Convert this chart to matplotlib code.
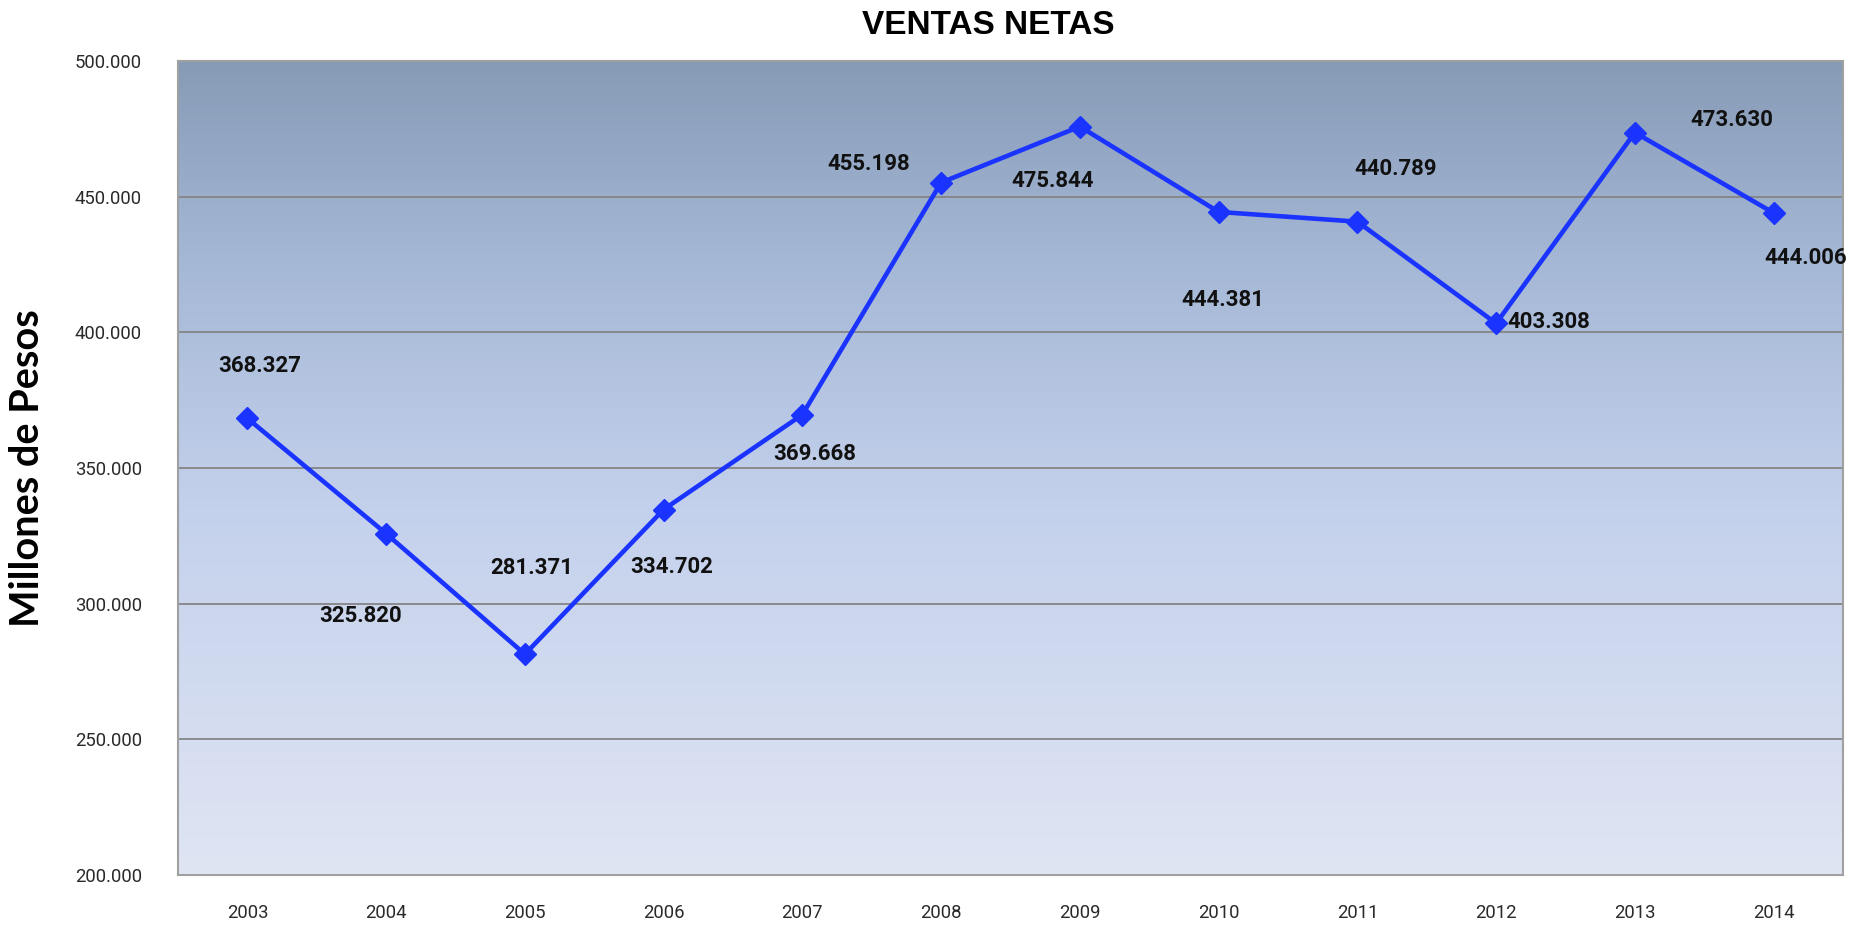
import matplotlib
matplotlib.use("Agg")
import matplotlib.pyplot as plt
import numpy as np
from matplotlib.colors import LinearSegmentedColormap

years = ["2003", "2004", "2005", "2006", "2007", "2008", "2009", "2010",
         "2011", "2012", "2013", "2014"]
ventas = [368327, 325820, 281371, 334702, 369668, 455198, 475844, 444381,
          440789, 403308, 473630, 444006]
y_ticks = [200000, 250000, 300000, 350000, 400000, 450000, 500000]

# label offsets in pixels (dx, dy) relative to each point (style only)
label_offsets = [(12, 52), (-26, -82), (7, 86), (8, -57), (12, -39), (-72, 19),
                 (-27, -54), (4, -88), (38, 53), (53, 1), (97, 13), (32, -45)]


def fmt(v):
    return f"{v:,.0f}".replace(",", ".")


fig = plt.figure(figsize=(18.56, 9.26), dpi=100)
ax = fig.add_axes([178 / 1856, 1 - 875 / 926, (1843 - 178) / 1856, (875 - 61) / 926])

x = np.arange(len(years))
ax.set_xlim(-0.5, len(years) - 0.5)
ax.set_ylim(y_ticks[0], y_ticks[-1])

# gradient background
cmap = LinearSegmentedColormap.from_list(
    "bg", [(0.0, "#DFE5F3"), (0.45, "#C4D1EC"), (0.75, "#A5B8D6"), (1.0, "#879BB7")])
grad = np.linspace(0, 1, 256).reshape(-1, 1)
ax.imshow(grad, aspect="auto", cmap=cmap, origin="lower",
          extent=[-0.5, len(years) - 0.5, y_ticks[0], y_ticks[-1]], zorder=0)

for yt in y_ticks[1:-1]:
    ax.axhline(yt, color="#858585", lw=1.3, zorder=1)

ax.plot(x, ventas, color="#1A33FF", lw=3.3, marker="D", markersize=11,
        markeredgecolor="#1A33FF", zorder=3)

for xi, v, (dx, dy) in zip(x, ventas, label_offsets):
    ax.annotate(fmt(v), (xi, v), xytext=(dx, dy), textcoords="offset pixels",
                ha="center", va="center", fontsize=16, fontweight="bold",
                family="Roboto", color="#111111", zorder=4)

ax.set_xticks(x)
ax.set_xticklabels(years, family="Roboto")
ax.set_yticks(y_ticks)
ax.set_yticklabels([fmt(t) for t in y_ticks], family="Roboto")
ax.tick_params(axis="both", length=0, labelsize=13.3, colors="#2a2a2a")
ax.tick_params(axis="y", pad=26)
ax.tick_params(axis="x", pad=21)

for s in ax.spines.values():
    s.set_color("#A0A0A0")
    s.set_linewidth(1.5)

fig.text(988 / 1856, 1 - 25 / 926, "VENTAS NETAS", ha="center", va="center",
         fontsize=24, fontweight="bold", family="Liberation Sans")
fig.text(28 / 1856, 1 - 468 / 926, "Millones de Pesos", ha="center", va="center",
         rotation=90, fontsize=28.5, fontweight="bold", family="Lato")

fig.savefig("out.png", dpi=100)
